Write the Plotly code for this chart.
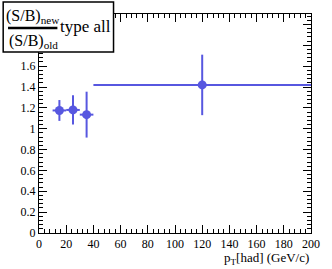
import plotly.graph_objects as go

pt_center = [15, 25, 35, 120]
pt_halfwidth = [5, 5, 5, 80]
ratio = [1.175, 1.18, 1.135, 1.42]
ratio_err = [0.10, 0.14, 0.22, 0.29]

color = "#5757e0"
font = "Liberation Serif"

fig = go.Figure()
fig.add_trace(go.Scatter(
    x=pt_center, y=ratio, mode="markers",
    marker=dict(color=color, size=9, symbol="circle"),
    error_x=dict(type="data", array=pt_halfwidth, color=color, thickness=2, width=0),
    error_y=dict(type="data", array=ratio_err, color=color, thickness=2, width=0),
    showlegend=False, hoverinfo="skip",
))

axis_common = dict(
    showgrid=False, zeroline=False, showline=True, linecolor="black", linewidth=1,
    ticks="inside", mirror="allticks", tickcolor="black", ticklen=8,
    tickfont=dict(family=font, size=12, color="black"),
)
fig.update_xaxes(range=[0, 200], dtick=20, tick0=0,
                 minor=dict(ticks="inside", dtick=4, ticklen=4, tickcolor="black"),
                 **axis_common)
fig.update_yaxes(range=[0, 2.1], dtick=0.2, tick0=0,
                 minor=dict(ticks="inside", dtick=0.04, ticklen=4, tickcolor="black"),
                 **axis_common)

fig.add_annotation(text="p<sub>T</sub>[had] (GeV/c)", xref="paper", yref="paper",
                   x=1, y=0, xanchor="right", yanchor="top", yshift=-15,
                   showarrow=False, font=dict(family=font, size=13, color="black"))

# legend-like box (pixel offsets from the plot area's top-left corner)
PW, PH = 281, 219
def px(x):
    return (x - 39) / PW
def py(y):
    return (233 - y) / PH

fig.add_shape(type="rect", xref="paper", yref="paper",
              x0=px(2), x1=px(116), y0=py(52), y1=py(2),
              line=dict(color="black", width=1.5), fillcolor="white", layer="above")
fig.add_shape(type="line", xref="paper", yref="paper",
              x0=px(7), x1=px(58), y0=py(28), y1=py(28),
              line=dict(color="black", width=2.5), layer="above")
fig.add_annotation(text="(S/B)<sub>new</sub>", xref="paper", yref="paper",
                   x=px(33), y=py(16), xanchor="center", yanchor="middle",
                   showarrow=False, font=dict(family=font, size=16, color="black"))
fig.add_annotation(text="(S/B)<sub>old</sub>", xref="paper", yref="paper",
                   x=px(33), y=py(41), xanchor="center", yanchor="middle",
                   showarrow=False, font=dict(family=font, size=16, color="black"))
fig.add_annotation(text="type all", xref="paper", yref="paper",
                   x=px(59), y=py(26), xanchor="left", yanchor="middle",
                   showarrow=False, font=dict(family=font, size=17, color="black"))

fig.update_layout(width=332, height=269, margin=dict(l=39, r=12, t=14, b=36),
                  plot_bgcolor="white", paper_bgcolor="white",
                  font=dict(family=font), hovermode=False)
fig.write_html("out.html", config={"displayModeBar": False, "staticPlot": True},
               post_script="document.body.style.margin='0';")
